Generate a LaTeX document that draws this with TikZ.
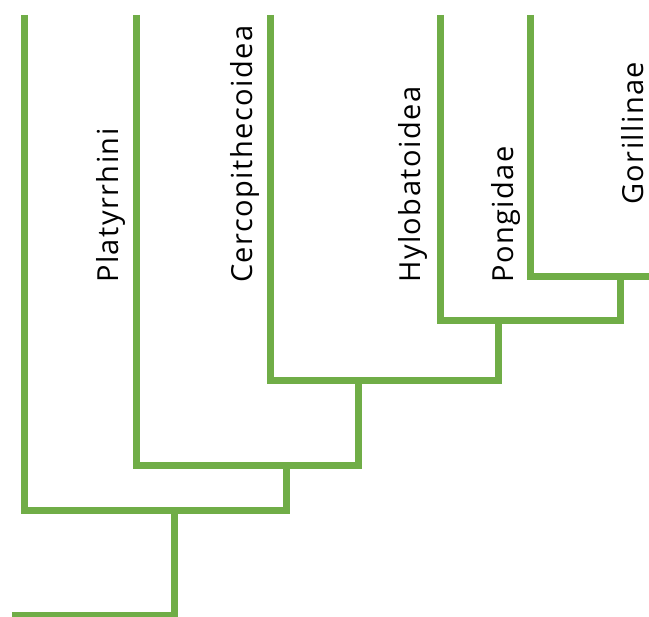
\documentclass[tikz,border=0pt]{standalone}
\usepackage{fontspec}
\setmainfont{Open Sans}[LetterSpace=5]
\usetikzlibrary{positioning}
\definecolor{leafgreen}{HTML}{70AD47}

\begin{document}
\begin{tikzpicture}[x=1pt, y=-1pt,
    branch/.style={draw=leafgreen, line width=7pt, line join=miter},
    taxon/.style={rotate=90, anchor=base west, inner sep=0pt, font=\fontsize{29}{29}\selectfont}
]
\useasboundingbox (0,0) rectangle (649,617);

% junctions
\coordinate (root) at (12,616);
\coordinate (n0) at (174,511);
\coordinate (n1) at (286,466);
\coordinate (n2) at (358,381);
\coordinate (n3) at (498,321);
\coordinate (n4) at (620,277);
\coordinate (rend) at (655,277);

% tips
\coordinate (tipA) at (24,15);
\coordinate (tipB) at (136,15);
\coordinate (tipC) at (270,15);
\coordinate (tipD) at (440,15);
\coordinate (tipE) at (530,15);

\draw[branch] (root) -| (n0);
\draw[branch] (tipA) |- (n1 |- n0) -- (n1);
\draw[branch] (tipB) |- (n2 |- n1) -- (n2);
\draw[branch] (tipC) |- (n3 |- n2) -- (n3);
\draw[branch] (tipD) |- (n4 |- n3) -- (n4);
\draw[branch] (tipE) |- (rend);

\node[taxon] (platy) at (118,283) {Platyrrhini};
\node[taxon] (cerco) at (252,283) {Cercopithecoidea};
\node[taxon] (hylo) at (420,283) {Hylobatoidea};
\node[taxon] (pongo) at (513,283) {Pongidae};
\node[taxon] (gori) at (643,205) {Gorillinae};
\end{tikzpicture}
\end{document}
